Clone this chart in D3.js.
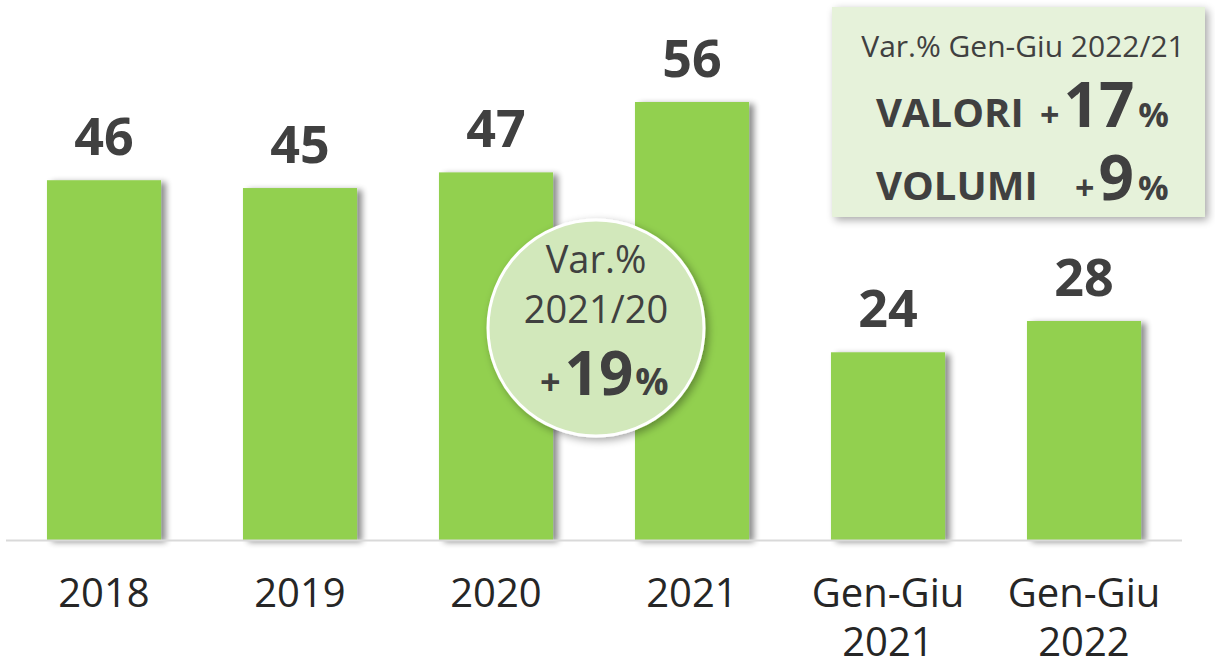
<!DOCTYPE html>
<html>
<head>
<meta charset="utf-8">
<script src="https://cdn.jsdelivr.net/npm/d3@7"></script>
<style>
  body { margin: 0; background: #fff; }
  text { font-family: 'Open Sans', sans-serif; }
</style>
</head>
<body>
<div id="chart-area"></div>
<script>
// data
const categories = ['2018', '2019', '2020', '2021', 'Gen-Giu\n2021', 'Gen-Giu\n2022'];
const values = [46, 45, 47, 56, 24, 28];
const circleLines = ['Var.%', '2021/20'];
const circleVar = '19';
const boxTitle = 'Var.% Gen-Giu 2022/21';
const boxRows = ['VALORI', 'VOLUMI'];
const boxVars = ['17', '9'];

const width = 1215, height = 665;
const baseline = 540;

const svg = d3.select('#chart-area')
  .append('svg')
  .attr('width', width)
  .attr('height', height);

const defs = svg.append('defs');
const sh = defs.append('filter').attr('id', 'barShadow')
  .attr('x', '-10%').attr('y', '-10%').attr('width', '130%').attr('height', '120%');
sh.append('feGaussianBlur').attr('in', 'SourceAlpha').attr('stdDeviation', 3);
sh.append('feOffset').attr('dx', 5).attr('dy', 2).attr('result', 'ob');
sh.append('feComponentTransfer').append('feFuncA').attr('type', 'linear').attr('slope', 0.45);
const m1 = sh.append('feMerge');
m1.append('feMergeNode');
m1.append('feMergeNode').attr('in', 'SourceGraphic');

const sh2 = defs.append('filter').attr('id', 'boxShadow')
  .attr('x', '-20%').attr('y', '-20%').attr('width', '140%').attr('height', '140%');
sh2.append('feGaussianBlur').attr('in', 'SourceAlpha').attr('stdDeviation', 4);
sh2.append('feOffset').attr('dx', 3).attr('dy', 3).attr('result', 'ob');
sh2.append('feComponentTransfer').append('feFuncA').attr('type', 'linear').attr('slope', 0.35);
const m2 = sh2.append('feMerge');
m2.append('feMergeNode');
m2.append('feMergeNode').attr('in', 'SourceGraphic');

const x = d3.scaleBand()
  .domain(categories)
  .range([6, 1182])
  .paddingInner(0.418)
  .paddingOuter(0.209);

const y = d3.scaleLinear()
  .domain([0, 56])
  .range([baseline, 102]);

// bars
svg.selectAll('rect.bar')
  .data(values)
  .enter()
  .append('rect')
  .attr('class', 'bar')
  .attr('x', (d, i) => x(categories[i]))
  .attr('y', d => y(d))
  .attr('width', x.bandwidth())
  .attr('height', d => baseline - y(d))
  .attr('fill', '#92d050')
  .attr('filter', 'url(#barShadow)');

// axis line
svg.append('line')
  .attr('x1', 6).attr('x2', 1182)
  .attr('y1', baseline + 0.5).attr('y2', baseline + 0.5)
  .attr('stroke', '#d9d9d9')
  .attr('stroke-width', 2);

// value labels
svg.selectAll('text.val')
  .data(values)
  .enter()
  .append('text')
  .attr('class', 'val')
  .attr('x', (d, i) => x(categories[i]) + x.bandwidth() / 2)
  .attr('y', d => y(d) - 25)
  .attr('text-anchor', 'middle')
  .attr('font-size', '52px')
  .attr('font-weight', 'bold')
  .attr('fill', '#404040')
  .text(d => d);

// category labels
categories.forEach(c => {
  const t = svg.append('text')
    .attr('x', x(c) + x.bandwidth() / 2)
    .attr('y', 607)
    .attr('text-anchor', 'middle')
    .attr('font-size', '40px')
    .attr('fill', '#262626');
  c.split('\n').forEach((line, j) => {
    t.append('tspan')
      .attr('x', x(c) + x.bandwidth() / 2)
      .attr('dy', j === 0 ? 0 : 49)
      .text(line);
  });
});

// circle callout
const cx = 596, cy = 328;
svg.append('circle')
  .attr('cx', cx).attr('cy', cy).attr('r', 108)
  .attr('fill', '#d2e8bb')
  .attr('stroke', '#fff')
  .attr('stroke-width', 3)
  .attr('filter', 'url(#boxShadow)');

circleLines.forEach((line, i) => {
  svg.append('text')
    .attr('x', cx).attr('y', 273 + i * 50)
    .attr('text-anchor', 'middle')
    .attr('font-size', '38px')
    .attr('fill', '#404040')
    .text(line);
});

const cv = svg.append('text')
  .attr('x', 540).attr('y', 395)
  .attr('font-weight', 'bold')
  .attr('fill', '#404040');
cv.append('tspan').attr('font-size', '36px').text('+');
cv.append('tspan').attr('font-size', '60px').attr('dx', 4).text(circleVar);
cv.append('tspan').attr('font-size', '37px').attr('dx', 2).text('%');

// box callout
svg.append('rect')
  .attr('x', 832).attr('y', 7)
  .attr('width', 373).attr('height', 210)
  .attr('fill', '#e6f2da')
  .attr('filter', 'url(#boxShadow)');

svg.append('text')
  .attr('x', 1023).attr('y', 57)
  .attr('text-anchor', 'middle')
  .attr('font-size', '30px')
  .attr('fill', '#404040')
  .text(boxTitle);

const plusX = [1040, 1075];
boxRows.forEach((row, i) => {
  const by = 127 + i * 73;
  svg.append('text')
    .attr('x', 876).attr('y', by)
    .attr('font-size', '40px')
    .attr('font-weight', 'bold')
    .attr('fill', '#404040')
    .text(row);
  const v = svg.append('text')
    .attr('x', plusX[i]).attr('y', by)
    .attr('font-weight', 'bold')
    .attr('fill', '#404040');
  v.append('tspan').attr('font-size', '34px').text('+');
  v.append('tspan').attr('font-size', '62px').attr('dx', 4).text(boxVars[i]);
  v.append('tspan').attr('font-size', '34px').attr('dx', 4).text('%');
});
</script>
</body>
</html>
